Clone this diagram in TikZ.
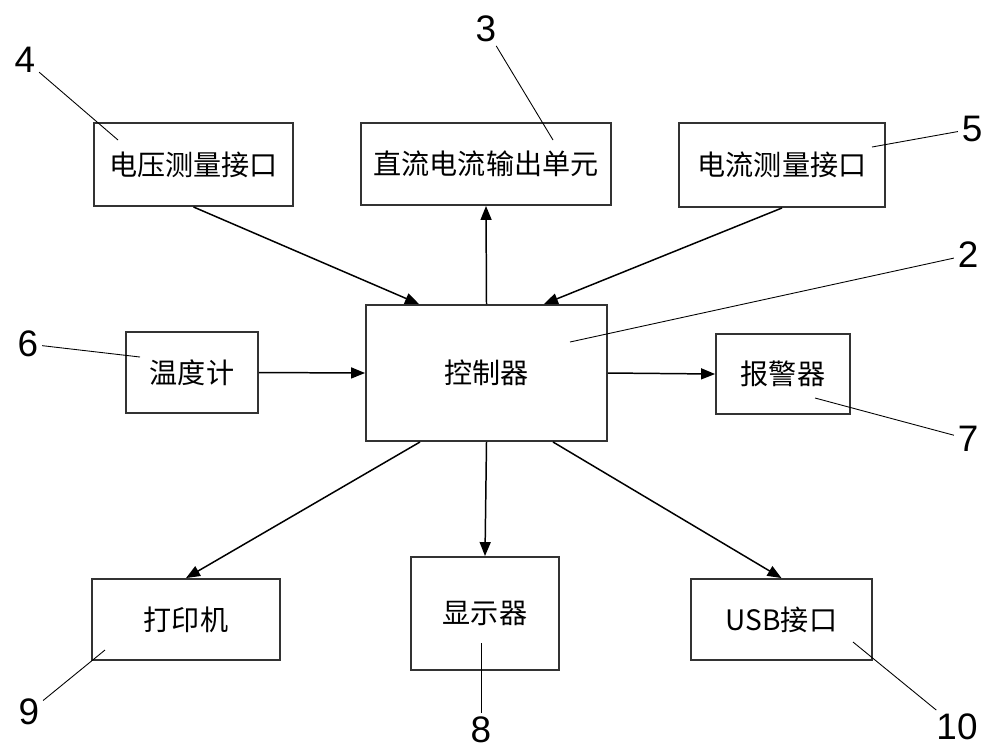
\documentclass[tikz,border=0pt]{standalone}
\usepackage{fontspec}
\setmainfont{Liberation Sans}
\newfontfamily\cjk{Noto Sans CJK SC}
\usetikzlibrary{arrows.meta}
\tikzset{>={Triangle[length=2.8mm,width=2.2mm]}}
\begin{document}
\begin{tikzpicture}[x=0.02cm,y=-0.02cm,
  box/.style={rectangle,draw=black!80,line width=1.1pt,inner sep=0pt,
    font=\cjk\fontsize{16}{18}\selectfont},
  num/.style={inner sep=2pt,font=\fontsize{21}{24}\selectfont},
  leader/.style={line width=0.5pt},
  flow/.style={line width=0.85pt}]
\useasboundingbox (0,0) rectangle (1000,752);
\node[box,minimum width=3.98cm,minimum height=1.66cm] (volt) at (193.5,164.5) {电压测量接口};
\node[box,minimum width=5cm,minimum height=1.64cm] (dcout) at (486,164) {直流电流输出单元};
\node[box,minimum width=4.12cm,minimum height=1.68cm] (curr) at (782,165) {电流测量接口};
\node[box,minimum width=4.82cm,minimum height=2.72cm] (ctrl) at (486.5,373) {控制器};
\node[box,minimum width=2.64cm,minimum height=1.62cm] (therm) at (192,372.5) {温度计};
\node[box,minimum width=2.68cm,minimum height=1.6cm] (alarm) at (783,374) {报警器};
\node[box,minimum width=3.76cm,minimum height=1.62cm] (printer) at (186,619.5) {打印机};
\node[box,minimum width=2.96cm,minimum height=2.26cm] (display) at (485,613.5) {显示器};
\node[box,minimum width=3.62cm,minimum height=1.62cm] (usb) at (781.5,619.5) {USB接口};
\draw[->,flow] (volt.south) -- ([xshift=1.08cm]ctrl.north west);
\draw[->,flow] (ctrl.north) -- (dcout.south);
\draw[->,flow] (curr.south) -- ([xshift=-1.28cm]ctrl.north east);
\draw[->,flow] (therm.east) -- (ctrl.west);
\draw[->,flow] (ctrl.east) -- (alarm.west);
\draw[->,flow] ([xshift=1.1cm]ctrl.south west) -- (printer.north);
\draw[->,flow] (ctrl.south) -- (display.north);
\draw[->,flow] ([xshift=-1.1cm]ctrl.south east) -- (usb.north);
% reference numbers
\node[num] (n2) at (968,255) {2};
\node[num] (n3) at (486,29) {3};
\node[num] (n4) at (25,60) {4};
\node[num] (n5) at (972,129) {5};
\node[num] (n6) at (28,344) {6};
\node[num] (n7) at (968,439) {7};
\node[num] (n8) at (481,730) {8};
\node[num] (n9) at (29,712) {9};
\node[num] (n10) at (957,727) {10};
\coordinate (p2) at (570,342);
\coordinate (p3) at (553,140);
\coordinate (p4) at (118,140);
\coordinate (p5) at (872,147);
\coordinate (p6) at (140,357);
\coordinate (p7) at (815,398);
\coordinate (p8) at (481,643);
\coordinate (p9) at (105,650);
\coordinate (p10) at (853,642);
\draw[leader] (n2) -- (p2);
\draw[leader] (n3) -- (p3);
\draw[leader] (n4) -- (p4);
\draw[leader] (n5) -- (p5);
\draw[leader] (n6) -- (p6);
\draw[leader] (n7) -- (p7);
\draw[leader] (n8) -- (p8);
\draw[leader] (n9) -- (p9);
\draw[leader] (n10) -- (p10);
\end{tikzpicture}
\end{document}
